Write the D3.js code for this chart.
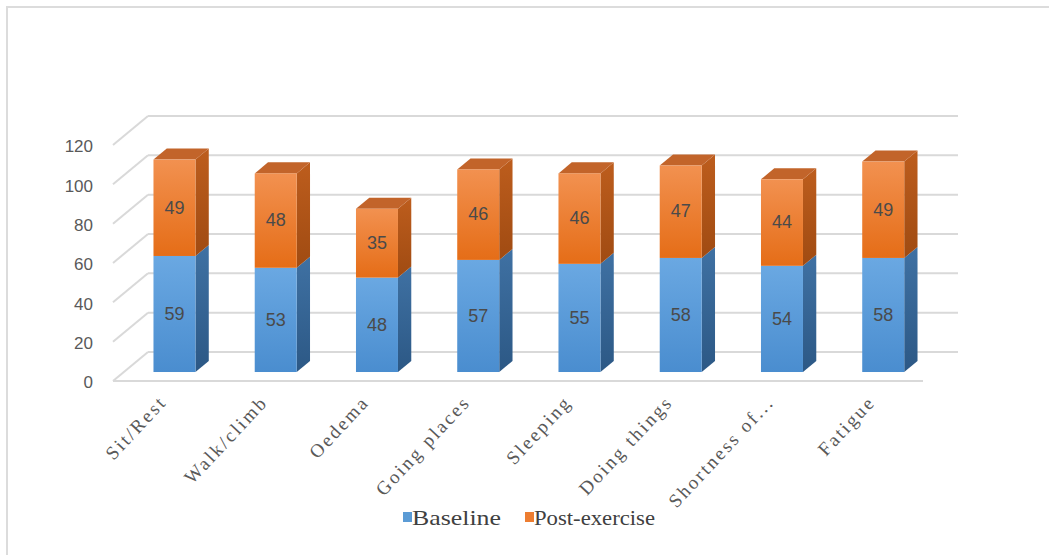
<!DOCTYPE html>
<html>
<head>
<meta charset="utf-8">
<script src="https://cdnjs.cloudflare.com/ajax/libs/d3/7.8.5/d3.min.js"></script>
<style>
  body { margin: 0; background: #fff; }
</style>
</head>
<body>
<div class="container"></div>
<script>
// data
var categories = ["Sit/Rest", "Walk/climb", "Oedema", "Going places", "Sleeping", "Doing things", "Shortness of...", "Fatigue"];
var baseline = [59, 53, 48, 57, 55, 58, 54, 58];
var postExercise = [49, 48, 35, 46, 46, 47, 44, 49];
var yTicks = [0, 20, 40, 60, 80, 100, 120];
var seriesNames = ["Baseline", "Post-exercise"];

var width = 1049, height = 555;
var depthX = 35, depthY = 29;     // 3d offset from front plane to back wall
var barD0 = 0.31, barD1 = 0.69;   // bar sits in the middle of the depth

var svg = d3.select(".container")
    .insert("svg")
    .attr("width", width)
    .attr("height", height);

// outer chart border
svg.append("rect")
    .attr("x", 7).attr("y", 7)
    .attr("width", 1060).attr("height", 560)
    .style("fill", "none")
    .style("stroke", "#dcdcdc")
    .style("stroke-width", 2);

var x = d3.scaleBand().domain(categories).range([113, 923]);
var y = d3.scaleLinear().domain([0, 120]).range([381, 145]);

// gradients
var defs = svg.append("defs");
function makeGrad(id, top, bottom) {
    var g = defs.append("linearGradient").attr("id", id)
        .attr("x1", 0).attr("y1", 0).attr("x2", 0).attr("y2", 1);
    g.append("stop").attr("offset", "0%").attr("stop-color", top);
    g.append("stop").attr("offset", "100%").attr("stop-color", bottom);
}
makeGrad("blueFront", "#6aa8e2", "#4a8dcf");
makeGrad("blueSide", "#3f71a3", "#2c5885");
makeGrad("orangeFront", "#f29150", "#e56d17");
makeGrad("orangeSide", "#bd5d1d", "#a04b12");

// left wall diagonals + back wall gridlines
var grid = svg.append("g");
yTicks.forEach(function (t) {
    grid.append("line")
        .attr("x1", x.range()[0]).attr("y1", y(t))
        .attr("x2", x.range()[0] + depthX).attr("y2", y(t) - depthY)
        .style("stroke", "#d9d9d9").style("stroke-width", 2);
    grid.append("line")
        .attr("x1", x.range()[0] + depthX).attr("y1", y(t) - depthY)
        .attr("x2", x.range()[1] + depthX).attr("y2", y(t) - depthY)
        .style("stroke", "#d9d9d9").style("stroke-width", 2);
});
// floor front edge
grid.append("line")
    .attr("x1", x.range()[0]).attr("y1", y(0))
    .attr("x2", x.range()[1]).attr("y2", y(0))
    .style("stroke", "#d9d9d9").style("stroke-width", 2);

// y axis labels
svg.append("g").selectAll("text")
    .data(yTicks)
    .enter().append("text")
    .attr("x", 93)
    .attr("y", function (d) { return y(d) + 3; })
    .attr("text-anchor", "end")
    .attr("dominant-baseline", "middle")
    .style("font-family", "Liberation Sans, sans-serif")
    .style("font-size", "17px")
    .style("fill", "#595959")
    .text(function (d) { return d; });

function pts(arr) { return arr.map(function (p) { return p.join(","); }).join(" "); }

function drawSegment(g, cat, v0, v1, front, side, top) {
    var bw = 42;
    var cx = x(cat) + x.bandwidth() / 2;
    var xl = cx - bw / 2 + barD0 * depthX, xr = xl + bw;
    var yb = y(v0) - barD0 * depthY, yt = y(v1) - barD0 * depthY;
    var dx = (barD1 - barD0) * depthX, dy = (barD1 - barD0) * depthY;
    g.append("polygon")
        .attr("points", pts([[xr, yb], [xr, yt], [xr + dx, yt - dy], [xr + dx, yb - dy]]))
        .style("fill", side);
    if (top) {
        g.append("polygon")
            .attr("points", pts([[xl, yt], [xr, yt], [xr + dx, yt - dy], [xl + dx, yt - dy]]))
            .style("fill", top);
    }
    g.append("rect")
        .attr("x", xl).attr("y", yt)
        .attr("width", bw).attr("height", yb - yt)
        .style("fill", front);
    g.append("text")
        .attr("x", xl + bw / 2)
        .attr("y", (yt + yb) / 2 + 1)
        .attr("text-anchor", "middle")
        .attr("dominant-baseline", "middle")
        .style("font-family", "Liberation Sans, sans-serif")
        .style("font-size", "18px")
        .style("fill", "#4a4a4a")
        .text(v1 - v0);
}

var bars = svg.append("g");
categories.forEach(function (c, i) {
    var b = baseline[i], p = postExercise[i];
    drawSegment(bars, c, 0, b, "url(#blueFront)", "url(#blueSide)", null);
    drawSegment(bars, c, b, b + p, "url(#orangeFront)", "url(#orangeSide)", "#c2642a");
});

// category labels
svg.append("g").selectAll("text")
    .data(categories)
    .enter().append("text")
    .attr("transform", function (d) {
        return "translate(" + (x(d) + x.bandwidth() / 2 + 4) + ",403) rotate(-47)";
    })
    .attr("text-anchor", "end")
    .style("font-family", "Liberation Serif, serif")
    .style("font-size", "19px")
    .style("letter-spacing", "2.4px")
    .style("fill", "#595959")
    .text(function (d) { return d; });

// legend
var legend = svg.append("g");
var legendX = [403, 525];
var legendLen = [89, 121];
var legendColor = ["#5b9bd5", "#ed7d31"];
seriesNames.forEach(function (s, i) {
    legend.append("rect")
        .attr("x", legendX[i]).attr("y", 512)
        .attr("width", 9).attr("height", 10)
        .style("fill", legendColor[i]);
    legend.append("text")
        .attr("x", legendX[i] + 9).attr("y", 525)
        .attr("textLength", legendLen[i])
        .attr("lengthAdjust", "spacingAndGlyphs")
        .style("font-family", "Liberation Serif, serif")
        .style("font-size", "21px")
        .style("fill", "#404040")
        .text(s);
});
</script>
</body>
</html>
